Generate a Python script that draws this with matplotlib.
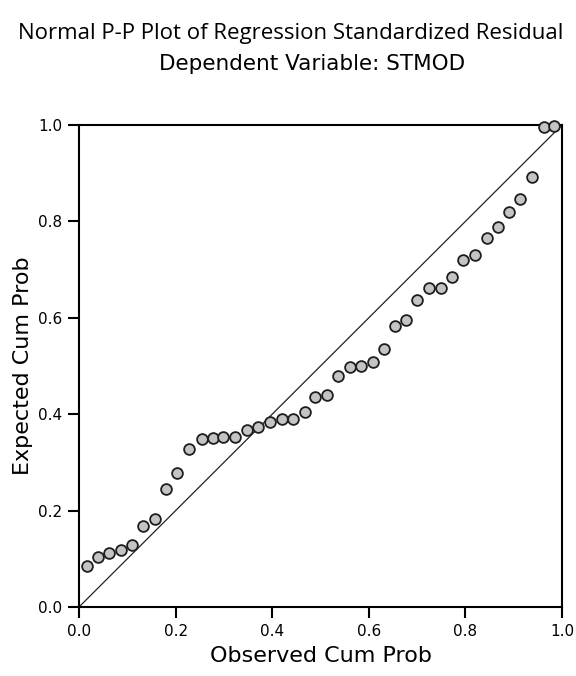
import matplotlib
matplotlib.use('Agg')
import matplotlib.pyplot as plt
import numpy as np

# observed vs expected cumulative probabilities
observed = [0.016, 0.039, 0.063, 0.086, 0.109, 0.133, 0.157, 0.181, 0.202, 0.228,
            0.254, 0.277, 0.299, 0.323, 0.347, 0.371, 0.395, 0.420, 0.444, 0.468,
            0.489, 0.513, 0.537, 0.561, 0.584, 0.608, 0.632, 0.654, 0.677, 0.699,
            0.725, 0.749, 0.773, 0.796, 0.820, 0.844, 0.868, 0.891, 0.913, 0.937,
            0.962, 0.983]
expected = [0.084, 0.104, 0.113, 0.118, 0.129, 0.167, 0.182, 0.244, 0.277, 0.328,
            0.349, 0.350, 0.352, 0.352, 0.367, 0.374, 0.384, 0.391, 0.391, 0.405,
            0.435, 0.440, 0.479, 0.497, 0.499, 0.509, 0.535, 0.583, 0.595, 0.637,
            0.661, 0.661, 0.685, 0.719, 0.730, 0.765, 0.789, 0.820, 0.846, 0.893,
            0.995, 0.998]
ticks = [0.0, 0.2, 0.4, 0.6, 0.8, 1.0]
tick_labels = ['0.0', '0.2', '0.4', '0.6', '0.8', '1.0']

fig = plt.figure(figsize=(5.76, 6.76), dpi=100)
ax = fig.add_axes([0.1372, 0.1021, 0.8385, 0.713])

ax.plot([0, 1], [0, 1], color='#222222', lw=0.9, zorder=1)
ax.scatter(observed, expected, s=60, facecolor='#c4c4c4', edgecolor='#1e1e1e',
           linewidths=1.3, zorder=3, clip_on=False)

ax.set_xlim(0, 1)
ax.set_ylim(0, 1)
ax.set_xticks(ticks)
ax.set_yticks(ticks)
ax.set_xticklabels(tick_labels)
ax.set_yticklabels(tick_labels)
ax.tick_params(direction='out', length=8, width=1.5, labelsize=11, pad=4)
for s in ax.spines.values():
    s.set_linewidth(1.5)

ax.set_xlabel('Observed Cum Prob', fontsize=16, labelpad=5)
ax.set_ylabel('Expected Cum Prob', fontsize=16, labelpad=4)

# title runs up to the right edge in the reference, keep it just inside
fig.text(18 / 576, 1 - 34 / 676, 'Normal P-P Plot of Regression Standardized Residual',
         family='Open Sans', fontsize=16, ha='left', va='center')
fig.text(312 / 576, 1 - 64 / 676, 'Dependent Variable: STMOD',
         fontsize=15.5, ha='center', va='center')

fig.savefig('out.png', dpi=100)
